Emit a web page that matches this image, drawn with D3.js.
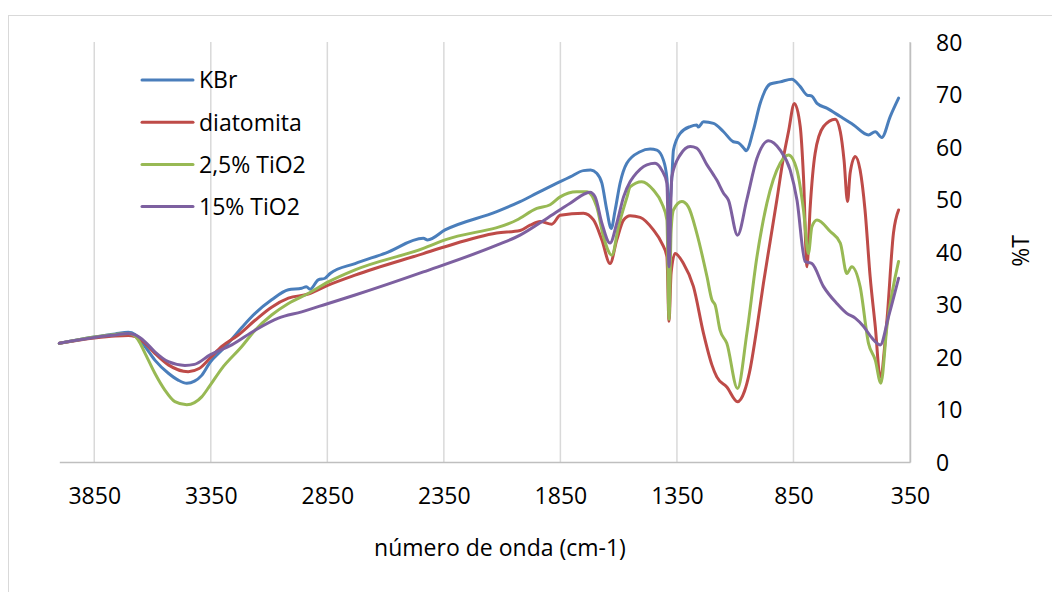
<!DOCTYPE html>
<html>
<head>
<meta charset="utf-8">
<script src="https://cdn.jsdelivr.net/npm/d3@7"></script>
<style>
	body { margin: 0; background: #fff; }
	svg { display: block; font-family: "Open Sans", sans-serif; }
</style>
</head>
<body>
<svg id="chart" width="1052" height="592"></svg>
<script>
// series names and colours (Excel 2007 palette)
var series_names = ['KBr', 'diatomita', '2,5% TiO2', '15% TiO2'];
var series_colors = ['#4a7ebb', '#be4b48', '#98b954', '#7d60a0'];

var x_ticks = [3850, 3350, 2850, 2350, 1850, 1350, 850, 350];
var y_ticks = [0, 10, 20, 30, 40, 50, 60, 70, 80];

// [wavenumber, %T]
var kbr = [[4000,22.6],[3850,23.8],[3760,24.4],[3704,24.7],[3675,24.3],[3632,22.0],[3590,19.4],[3532,16.9],[3490,15.6],[3453,15.0],[3420,15.4],[3389,16.5],[3353,19.0],[3303,21.3],[3260,23.4],[3217,25.6],[3160,28.3],[3089,30.9],[3017,32.8],[2960,33.1],[2940,33.4],[2924,32.9],[2889,34.7],[2860,35.0],[2838,35.9],[2731,37.8],[2600,39.8],[2438,42.6],[2420,42.3],[2345,44.2],[2123,47.7],[2023,49.6],[1951,51.2],[1851,53.4],[1808,54.3],[1751,55.5],[1720,55.6],[1694,55.0],[1672,53.1],[1651,48.0],[1632,44.5],[1615,48.0],[1594,53.1],[1565,56.9],[1508,59.1],[1465,59.6],[1436,59.4],[1408,57.5],[1393,54.0],[1384,48.0],[1372,54.0],[1365,59.4],[1336,62.6],[1293,63.9],[1265,64.2],[1258,63.8],[1236,64.8],[1193,64.5],[1150,62.9],[1108,61.0],[1086,60.8],[1060,59.6],[1053,59.3],[1022,63.2],[993,68.3],[950,72.0],[907,72.4],[857,72.9],[821,71.5],[792,69.9],[771,69.7],[749,68.3],[707,67.4],[649,65.8],[592,64.2],[528,62.3],[499,62.9],[471,61.8],[435,65.8],[399,69.3]];

var diatomita = [[4000,22.6],[3850,23.6],[3760,24.0],[3704,24.1],[3675,23.9],[3632,22.6],[3590,20.7],[3532,18.5],[3447,17.2],[3400,17.8],[3353,19.8],[3303,22.0],[3232,24.2],[3160,27.0],[3089,29.5],[3017,31.2],[2932,32.0],[2846,33.7],[2731,35.6],[2438,39.7],[2345,41.0],[2123,43.6],[2023,44.1],[1980,45.1],[1937,45.8],[1887,45.3],[1851,47.0],[1751,47.4],[1708,46.1],[1672,42.3],[1637,37.8],[1608,42.3],[1579,46.1],[1551,46.9],[1508,46.6],[1451,44.2],[1415,41.7],[1393,39.1],[1384,26.8],[1375,36.0],[1358,39.7],[1322,37.8],[1279,33.4],[1236,24.5],[1200,18.5],[1179,16.2],[1136,14.3],[1090,11.5],[1060,13.5],[1039,17.0],[1007,25.5],[979,34.0],[950,42.0],[921,50.0],[893,58.0],[871,63.0],[846,68.3],[821,63.9],[807,54.3],[792,37.2],[779,48.0],[757,58.8],[721,63.9],[671,65.3],[649,62.9],[633,57.5],[618,49.6],[607,55.0],[585,58.2],[564,55.6],[543,48.0],[521,35.3],[499,25.8],[478,16.2],[449,27.0],[421,43.6],[399,48.0]];

var tio2_25 = [[4000,22.6],[3850,23.8],[3760,24.3],[3704,24.5],[3675,24.0],[3661,23.2],[3632,20.7],[3590,16.9],[3547,13.7],[3504,11.5],[3453,10.9],[3420,11.3],[3389,12.4],[3353,14.6],[3303,17.8],[3217,22.0],[3160,25.1],[3089,28.0],[3017,30.2],[2932,32.1],[2846,34.3],[2731,36.6],[2438,40.7],[2345,42.3],[2037,46.1],[1951,48.3],[1894,49.0],[1851,50.5],[1780,51.5],[1737,51.5],[1694,48.6],[1665,42.9],[1629,39.4],[1601,44.8],[1564,50.5],[1551,52.4],[1501,53.4],[1451,51.8],[1415,49.3],[1393,46.1],[1384,27.2],[1375,44.0],[1365,48.0],[1329,49.6],[1301,48.6],[1265,43.6],[1221,35.3],[1200,30.9],[1186,29.9],[1165,25.1],[1136,22.6],[1090,14.0],[1050,24.5],[1007,39.0],[964,49.3],[907,56.9],[871,58.5],[835,55.6],[807,48.0],[786,39.7],[771,44.8],[749,46.1],[692,43.9],[649,41.7],[621,35.9],[600,37.2],[564,33.4],[528,22.6],[499,19.4],[475,15.0],[449,25.8],[399,38.2]];

var tio2_15 = [[4000,22.6],[3850,23.7],[3760,24.2],[3704,24.5],[3675,24.2],[3632,22.9],[3590,21.0],[3532,19.1],[3461,18.4],[3420,18.6],[3353,20.4],[3260,22.3],[3160,25.1],[3060,27.4],[2960,28.6],[2846,30.2],[2731,31.8],[2438,36.2],[2123,41.3],[2023,43.2],[1908,46.4],[1808,49.3],[1723,51.4],[1701,50.5],[1672,45.5],[1637,41.7],[1608,45.5],[1579,50.5],[1551,53.4],[1537,54.3],[1479,56.6],[1444,56.9],[1415,55.6],[1393,53.1],[1384,37.2],[1372,54.3],[1336,58.5],[1293,60.1],[1265,59.8],[1221,56.6],[1193,54.7],[1179,53.7],[1150,51.2],[1129,49.9],[1090,43.2],[1050,50.0],[1007,57.8],[957,61.2],[907,59.4],[864,55.6],[835,49.9],[800,38.2],[771,37.8],[721,33.4],[664,30.2],[621,28.3],[585,27.4],[549,25.8],[513,23.6],[478,22.3],[442,27.7],[399,35.0]];

var all_series = [kbr, diatomita, tio2_25, tio2_15];

var svg = d3.select('#chart');

// chart area border (only top and left show in the frame)
svg.append('rect')
	.attr('x', 8.5).attr('y', 15.5)
	.attr('width', 1200).attr('height', 800)
	.attr('fill', 'none')
	.attr('stroke', '#d9d9d9');

// scales, wavenumber runs backwards
var x = d3.scaleLinear().domain([4000, 350]).range([59.3, 910]);
var y = d3.scaleLinear().domain([0, 80]).range([462, 42]);

// vertical gridlines
svg.append('g')
	.selectAll('line')
	.data(x_ticks)
	.enter().append('line')
	.attr('x1', d => x(d)).attr('x2', d => x(d))
	.attr('y1', y(80)).attr('y2', y(0))
	.attr('stroke', '#d9d9d9')
	.attr('stroke-width', 1.5);

// bottom axis
var xAxis = svg.append('g')
	.attr('transform', 'translate(0,' + y(0) + ')')
	.call(d3.axisBottom(x).tickValues(x_ticks).tickFormat(d3.format('d')).tickSize(0).tickPadding(0));
xAxis.select('.domain').attr('stroke', '#bfbfbf').attr('stroke-width', 1.5);
xAxis.selectAll('text')
	.attr('y', 42).attr('dy', null)
	.attr('font-size', 23).attr('font-family', '"Open Sans", sans-serif')
	.attr('fill', '#000');

// right axis
var yAxis = svg.append('g')
	.attr('transform', 'translate(' + x(350) + ',0)')
	.call(d3.axisRight(y).tickValues(y_ticks).tickFormat(d3.format('d')).tickSize(0).tickPadding(26));
yAxis.select('.domain').attr('stroke', '#bfbfbf').attr('stroke-width', 1.5);
yAxis.selectAll('text')
	.attr('dy', '0.36em')
	.attr('font-size', 23).attr('font-family', '"Open Sans", sans-serif')
	.attr('fill', '#000');

// axis titles
svg.append('text')
	.attr('x', 500).attr('y', 556)
	.attr('text-anchor', 'middle')
	.attr('font-size', 23)
	.text('número de onda (cm-1)');

svg.append('text')
	.attr('transform', 'translate(1029,251) rotate(-90)')
	.attr('text-anchor', 'middle')
	.attr('font-size', 23)
	.text('%T');

// lines
var line = d3.line()
	.x(d => x(d[0]))
	.y(d => y(d[1]))
	.curve(d3.curveMonotoneX);

svg.append('g')
	.selectAll('path')
	.data(all_series)
	.enter().append('path')
	.attr('d', line)
	.attr('fill', 'none')
	.attr('stroke', (d, i) => series_colors[i])
	.attr('stroke-width', 3)
	.attr('stroke-linejoin', 'round')
	.attr('stroke-linecap', 'round');

// legend
var legend = svg.append('g')
	.selectAll('g')
	.data(series_names)
	.enter().append('g')
	.attr('transform', (d, i) => 'translate(142,' + (80 + i * 42.2) + ')');

legend.append('line')
	.attr('x1', 0).attr('x2', 51)
	.attr('stroke', (d, i) => series_colors[i])
	.attr('stroke-width', 3)
	.attr('stroke-linecap', 'round');

legend.append('text')
	.attr('x', 57).attr('y', 8.3)
	.attr('font-size', 23)
	.text(d => d);
</script>
</body>
</html>
